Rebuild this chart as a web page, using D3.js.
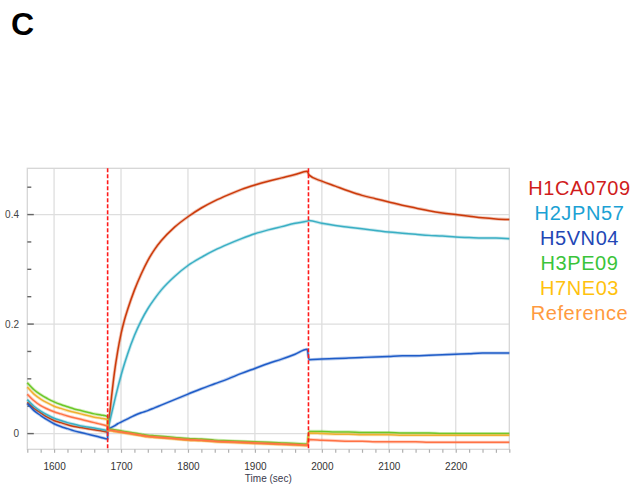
<!DOCTYPE html>
<html>
<head>
<meta charset="utf-8">
<script src="https://cdn.jsdelivr.net/npm/d3@7"></script>
<style>
  html, body { margin: 0; padding: 0; background: #fff; }
  svg { display: block; font-family: "Liberation Sans", Arial, sans-serif; }
</style>
</head>
<body>
<svg id="chart" width="638" height="485"></svg>
<script>
// ---- data ----
const seriesNames = ["H1CA0709", "H2JPN57", "H5VN04", "H3PE09", "H7NE03", "Reference"];

// time points (sec)
const tBaseline = [1560, 1570, 1580, 1590, 1600, 1610, 1620, 1630, 1640, 1650, 1660, 1670, 1680];
const tAssociation = [1680, 1682, 1685, 1690, 1695, 1700, 1705, 1710, 1720, 1730, 1740, 1750, 1760, 1780, 1800, 1820, 1840, 1860, 1880, 1900, 1920, 1940, 1960, 1978];
const tDissociation = [1981, 2000, 2020, 2040, 2060, 2080, 2100, 2120, 2140, 2160, 2180, 2200, 2220, 2240, 2260, 2280];

// H1CA0709
const h1Baseline = [0.057, 0.046, 0.038, 0.030, 0.024, 0.020, 0.016, 0.013, 0.011, 0.009, 0.007, 0.005, 0.003];
const h1Association = [0.003, 0.025, 0.058, 0.110, 0.150, 0.182, 0.207, 0.227, 0.262, 0.291, 0.316, 0.336, 0.352, 0.377, 0.396, 0.412, 0.425, 0.436, 0.446, 0.454, 0.461, 0.467, 0.473, 0.479];
const h1Dissociation = [0.472, 0.461, 0.452, 0.443, 0.435, 0.429, 0.423, 0.417, 0.412, 0.407, 0.403, 0.400, 0.397, 0.394, 0.392, 0.391];

// H2JPN57
const h2Baseline = [0.062, 0.050, 0.041, 0.034, 0.028, 0.024, 0.020, 0.017, 0.014, 0.012, 0.010, 0.008, 0.006];
const h2Association = [0.006, 0.016, 0.032, 0.058, 0.083, 0.106, 0.127, 0.146, 0.179, 0.206, 0.228, 0.246, 0.262, 0.287, 0.307, 0.322, 0.335, 0.346, 0.356, 0.365, 0.372, 0.378, 0.384, 0.388];
const h2Dissociation = [0.389, 0.384, 0.380, 0.377, 0.374, 0.371, 0.368, 0.366, 0.364, 0.362, 0.361, 0.359, 0.358, 0.357, 0.357, 0.356];

// H5VN04
const h5Baseline = [0.055, 0.042, 0.033, 0.025, 0.018, 0.013, 0.009, 0.005, 0.002, -0.001, -0.004, -0.007, -0.010];
const h5Association = [0.008, 0.009, 0.011, 0.014, 0.018, 0.021, 0.024, 0.027, 0.033, 0.038, 0.042, 0.047, 0.052, 0.062, 0.072, 0.082, 0.091, 0.100, 0.110, 0.119, 0.128, 0.136, 0.145, 0.154];
const h5Dissociation = [0.135, 0.136, 0.137, 0.138, 0.139, 0.140, 0.141, 0.142, 0.142, 0.143, 0.144, 0.145, 0.146, 0.147, 0.147, 0.147];

// H3PE09
const h3Baseline = [0.093, 0.080, 0.071, 0.064, 0.058, 0.053, 0.049, 0.045, 0.042, 0.039, 0.036, 0.034, 0.031];
const h3Association = [0.008, 0.008, 0.008, 0.007, 0.006, 0.005, 0.004, 0.003, 0.001, -0.001, -0.003, -0.004, -0.005, -0.007, -0.009, -0.010, -0.012, -0.013, -0.014, -0.015, -0.016, -0.017, -0.018, -0.019];
const h3Dissociation = [0.004, 0.004, 0.003, 0.003, 0.002, 0.002, 0.002, 0.001, 0.001, 0.001, 0.000, 0.000, 0.000, 0.000, 0.000, 0.000];

// H7NE03
const h7Baseline = [0.085, 0.072, 0.063, 0.056, 0.050, 0.046, 0.042, 0.039, 0.036, 0.033, 0.030, 0.028, 0.025];
const h7Association = [0.005, 0.005, 0.005, 0.004, 0.003, 0.002, 0.001, 0.000, -0.002, -0.004, -0.006, -0.007, -0.008, -0.010, -0.012, -0.013, -0.015, -0.016, -0.017, -0.018, -0.019, -0.020, -0.021, -0.022];
const h7Dissociation = [0.001, 0.000, -0.001, -0.001, -0.002, -0.002, -0.002, -0.003, -0.003, -0.003, -0.003, -0.003, -0.003, -0.003, -0.003, -0.003];

// Reference
const refBaseline = [0.072, 0.060, 0.051, 0.045, 0.040, 0.036, 0.032, 0.029, 0.026, 0.023, 0.020, 0.017, 0.013];
const refAssociation = [0.006, 0.006, 0.006, 0.005, 0.004, 0.003, 0.002, 0.001, -0.001, -0.003, -0.005, -0.006, -0.007, -0.009, -0.011, -0.012, -0.014, -0.015, -0.016, -0.017, -0.018, -0.019, -0.020, -0.021];
const refDissociation = [-0.011, -0.012, -0.013, -0.014, -0.014, -0.015, -0.015, -0.015, -0.015, -0.016, -0.016, -0.016, -0.016, -0.016, -0.016, -0.016];

const phaseStarts = [1680, 1980];           // injection markers
const xMajorTicks = [1600, 1700, 1800, 1900, 2000, 2100, 2200];
const yMajorTicks = [0, 0.2, 0.4];
const panelLabel = "C";
const xAxisTitle = "Time (sec)";

// ---- assemble series ----
const seriesValues = [
  [h1Baseline, h1Association, h1Dissociation],
  [h2Baseline, h2Association, h2Dissociation],
  [h5Baseline, h5Association, h5Dissociation],
  [h3Baseline, h3Association, h3Dissociation],
  [h7Baseline, h7Association, h7Dissociation],
  [refBaseline, refAssociation, refDissociation]
];
const phaseTimes = [tBaseline, tAssociation, tDissociation];
const lineColors = ["#cc3a0a", "#3aafc4", "#1f5cc8", "#6cc828", "#f0b030", "#ff7245"];
const legendColors = ["#d01c1c", "#1ba1d4", "#2347b5", "#3ac43a", "#ffc20e", "#ff9a40"];

const series = seriesNames.map((name, i) => ({
  name,
  points: phaseTimes.flatMap((ts, p) => ts.map((t, k) => ({ t, v: seriesValues[i][p][k] })))
}));

// ---- layout ----
const svg = d3.select("#chart");
const plot = { left: 27.3, right: 509.3, top: 168.3, bottom: 449.3 };
const x = d3.scaleLinear().domain([1560, 2280]).range([plot.left, plot.right]);
const y = d3.scaleLinear().domain([-0.0287, 0.4845]).range([plot.bottom, plot.top]);

svg.append("rect").attr("width", 638).attr("height", 485).attr("fill", "#fff");

// panel label
svg.append("text").attr("x", 11).attr("y", 35)
  .attr("font-size", 32).attr("font-weight", "bold").attr("fill", "#000")
  .text(panelLabel);

// grid
const grid = svg.append("g").attr("stroke", "#dedede").attr("stroke-width", 1.3);
grid.selectAll("line.vx").data(xMajorTicks).join("line")
  .attr("x1", d => x(d)).attr("x2", d => x(d))
  .attr("y1", plot.top).attr("y2", plot.bottom);
grid.selectAll("line.hy").data(yMajorTicks).join("line")
  .attr("x1", plot.left).attr("x2", plot.right)
  .attr("y1", d => y(d)).attr("y2", d => y(d));
svg.append("rect")
  .attr("x", plot.left).attr("y", plot.top)
  .attr("width", plot.right - plot.left).attr("height", plot.bottom - plot.top)
  .attr("fill", "none").attr("stroke", "#d6d6d6").attr("stroke-width", 1.3);

// x axis (minor ticks every 20 s, labels on hundreds)
const xTickVals = d3.range(1560, 2281, 20);
const xAxis = d3.axisBottom(x).tickValues(xTickVals).tickSize(3.5).tickPadding(10.5)
  .tickFormat(d => xMajorTicks.includes(d) ? String(d) : "");
const gx = svg.append("g").attr("transform", `translate(0,${plot.bottom})`).call(xAxis);
gx.select(".domain").remove();
gx.selectAll(".tick line").attr("stroke", "#b0b0b0").attr("stroke-width", 1.2);
gx.selectAll(".tick text").attr("font-size", 10).attr("fill", "#333")
  .attr("font-family", "Liberation Sans, Arial, sans-serif");

svg.append("text").attr("x", (plot.left + plot.right) / 2).attr("y", 482)
  .attr("text-anchor", "middle").attr("font-size", 10).attr("fill", "#3a3a4e")
  .text(xAxisTitle);

// y axis ticks inside plot (every 0.05), labels on majors
const yTickVals = d3.range(0, 0.451, 0.05).map(d => +d.toFixed(2));
const gy = svg.append("g");
gy.selectAll("line").data(yTickVals).join("line")
  .attr("x1", plot.left).attr("x2", d => plot.left + (yMajorTicks.includes(d) ? 6.5 : 4))
  .attr("y1", d => y(d)).attr("y2", d => y(d))
  .attr("stroke", "#666").attr("stroke-width", 1.4);
gy.selectAll("text").data(yMajorTicks).join("text")
  .attr("x", 19).attr("y", d => y(d)).attr("dy", "0.35em")
  .attr("text-anchor", "end").attr("font-size", 10).attr("fill", "#444")
  .text(d => d === 0 ? "0" : d3.format(".1f")(d));

// curves
const line = d3.line().x(d => x(d.t)).y(d => y(d.v)).curve(d3.curveMonotoneX);
const curves = svg.append("g");
series.forEach((s, i) => {
  curves.append("path").datum(s.points).attr("d", line)
    .attr("fill", "none").attr("stroke", lineColors[i])
    .attr("stroke-width", 3.2).attr("stroke-opacity", 0.3).attr("stroke-linejoin", "round");
  curves.append("path").datum(s.points).attr("d", line)
    .attr("fill", "none").attr("stroke", lineColors[i])
    .attr("stroke-width", 1.5).attr("stroke-linejoin", "round");
});

// injection markers
svg.append("g").selectAll("line").data(phaseStarts).join("line")
  .attr("x1", d => x(d)).attr("x2", d => x(d))
  .attr("y1", plot.top).attr("y2", plot.bottom)
  .attr("stroke", "#ff1a1a").attr("stroke-width", 1.6).attr("stroke-dasharray", "4,2");

// legend
svg.append("g").selectAll("text").data(seriesNames).join("text")
  .attr("x", 579.5).attr("y", (d, i) => 195 + i * 25)
  .attr("text-anchor", "middle").attr("font-size", 20).attr("letter-spacing", 0.6)
  .attr("fill", (d, i) => legendColors[i])
  .text(d => d);
</script>
</body>
</html>
